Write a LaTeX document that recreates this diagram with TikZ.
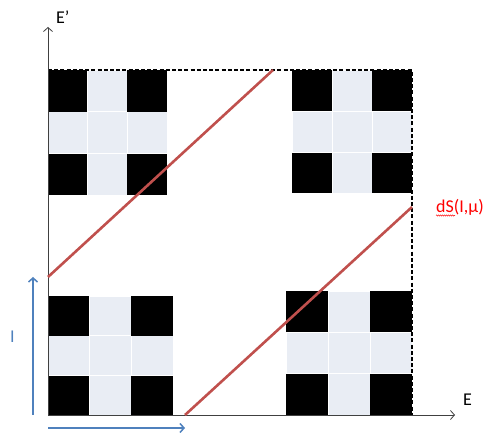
\documentclass[tikz,border=0pt]{standalone}
\usepackage{fontspec}
\setmainfont{Carlito}
\usetikzlibrary{arrows.meta,decorations.pathmorphing}
\definecolor{lightcell}{HTML}{E9EDF4}
\definecolor{redline}{HTML}{C0504D}
\definecolor{bluearrow}{HTML}{4F81BD}
\definecolor{axisgray}{HTML}{404040}
\tikzset{
  darkcell/.style={fill=black,draw=none},
  palecell/.style={fill=lightcell,draw=white,line width=0.8pt},
  axisline/.style={draw=axisgray,line width=0.8pt,-{Straight Barb[length=4pt,width=9pt]}},
  dashbox/.style={draw=black,line width=1.9pt,dash pattern=on 4pt off 2.2pt},
  redstroke/.style={draw=redline,line width=2.6pt},
  bluestroke/.style={draw=bluearrow,line width=1.5pt,-{Straight Barb[length=4pt,width=9pt]}},
  lbl/.style={font=\fontsize{18}{21}\selectfont,inner sep=0pt}
}
\newcommand{\crossblock}[4]{%
  \pgfmathsetmacro{\cw}{(#3-#1)/3}%
  \pgfmathsetmacro{\ch}{(#4-#2)/3}%
  \foreach \i in {0,1,2}{\foreach \j in {0,1,2}{%
    \pgfmathtruncatemacro{\corner}{(\i!=1)&&(\j!=1)}%
    \ifnum\corner=1
      \path[darkcell] ({#1+\i*\cw},{#2+\j*\ch}) rectangle ++(\cw,\ch);
    \else
      \path[palecell] ({#1+\i*\cw},{#2+\j*\ch}) rectangle ++(\cw,\ch);
    \fi
  }}%
}
\begin{document}
\begin{tikzpicture}[x=1pt,y=1pt]
\useasboundingbox (0,0) rectangle (486,435);
% blocks
\crossblock{48}{240}{167}{365}
\crossblock{292}{242}{412}{365}
\crossblock{48}{20}{173}{139}
\crossblock{286}{20}{412}{144}
% coordinates
\coordinate (O) at (48,20);
\coordinate (ytop) at (48,408);
\coordinate (xend) at (455,20);
\coordinate (boxtl) at (48,365);
\coordinate (boxtr) at (412,365);
\coordinate (boxbr) at (412,20);
\coordinate (r1a) at (48,158);
\coordinate (r1b) at (273,365);
\coordinate (r2a) at (185,20);
\coordinate (r2b) at (412,228);
\coordinate (bv0) at (33,20);
\coordinate (bv1) at (33,158);
\coordinate (bh0) at (48,7);
\coordinate (bh1) at (185,7);
% dashed box
\draw[dashbox] (boxtl) -- (boxtr) -- (boxbr);
% axes
\draw[axisline] (O) -- (ytop);
\draw[axisline] (O) -- (xend);
% red lines
\draw[redstroke] (r1a) -- (r1b);
\draw[redstroke] (r2a) -- (r2b);
% blue arrows
\draw[bluestroke] (bv0) -- (bv1);
\draw[bluestroke] (bh0) -- (bh1);
% labels
\node[lbl,anchor=base west] (Ep) at (56,411) {E’};
\node[lbl,anchor=base west] (El) at (463,29) {E};
\node[lbl,anchor=base west,text=bluearrow] (Il) at (10,92) {I};
\node[lbl,anchor=base west,text=red] (dS) at (436,222) {dS(I,μ)};
\draw[red,line width=0.5pt,decorate,decoration={snake,amplitude=0.6pt,segment length=2pt}]
  ([yshift=-2.5pt]dS.base west) -- ([xshift=19pt,yshift=-2.5pt]dS.base west);
\end{tikzpicture}
\end{document}
